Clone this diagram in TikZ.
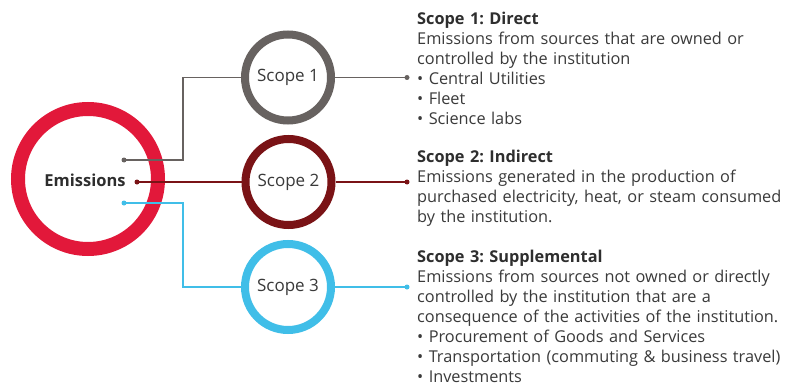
\documentclass[tikz,border=0pt]{standalone}
\usepackage{fontspec}
\setmainfont{Open Sans}
\frenchspacing
\definecolor{emred}{HTML}{E2183A}
\definecolor{sgray}{HTML}{676260}
\definecolor{sred}{HTML}{7A1316}
\definecolor{sblue}{HTML}{40BEE8}
\definecolor{txt}{HTML}{3A3A3A}
\definecolor{ttl}{HTML}{2E2E2E}
\begin{document}
\begin{tikzpicture}[x=1pt,y=-1pt,
  ring/.style={circle, draw=#1, line width=8pt, minimum size=86pt, inner sep=0pt,
    font=\fontsize{17}{20}\selectfont, text=txt},
  link/.style={draw=#1, line width=1.5pt},
  dotmark/.style={fill=#1},
  desc/.style={anchor=base west, inner sep=0pt, text width=375pt, align=left,
    font=\fontsize{16.3}{20}\selectfont, text=txt}]
\useasboundingbox (0,0) rectangle (786,385);
\fill[white] (0,0) rectangle (786,385);

% main circle
\node[circle, draw=emred, line width=14pt, minimum size=140pt, inner sep=0pt] (em) at (88,179) {};
\node[font=\fontsize{16.5}{18}\selectfont\bfseries, text=ttl, inner sep=0pt] (emtext) at (85,180) {Emissions};

% scope circles
\node[ring=sgray] (s1) at (288,77.5) {Scope 1};
\node[ring=sred]  (s2) at (288.5,182) {Scope 2};
\node[ring=sblue] (s3) at (288,287) {Scope 3};

% connector points
\coordinate (d1) at (124,160);
\coordinate (d2) at (137,182);
\coordinate (d3) at (124,203);
\coordinate (k1) at (183,77.5);
\coordinate (k3) at (183,287);
\coordinate (t1) at (407,77.5);
\coordinate (t2) at (407,182);
\coordinate (t3) at (407,287);

\draw[link=sgray] (d1) -| (k1) -- (s1);
\draw[link=sred]  (d2) -- (s2);
\draw[link=sblue] (d3) -| (k3) -- (s3);
\draw[link=sgray] (s1) -- (t1);
\draw[link=sred]  (s2) -- (t2);
\draw[link=sblue] (s3) -- (t3);

\foreach \p/\c in {d1/sgray, t1/sgray, d2/sred, t2/sred, d3/sblue, t3/sblue}
  \fill[dotmark=\c] (\p) circle (2.5pt);

% descriptions
\node[desc] (txt1) at (417,24.5) {{\bfseries\color{ttl}Scope 1: Direct}\\
Emissions from sources that are owned or\\
controlled by the institution\\
• Central Utilities\\
• Fleet\\
• Science labs};

\node[desc] (txt2) at (417,162.5) {{\bfseries\color{ttl}Scope 2: Indirect}\\
Emissions generated in the production of\\
purchased electricity, heat, or steam consumed\\
by the institution.};

\node[desc] (txt3) at (417,262.5) {{\bfseries\color{ttl}Scope 3: Supplemental}\\
Emissions from sources not owned or directly\\
controlled by the institution that are a\\
consequence of the activities of the institution.\\
• Procurement of Goods and Services\\
• Transportation (commuting \& business travel)\\
• Investments};
\end{tikzpicture}
\end{document}
